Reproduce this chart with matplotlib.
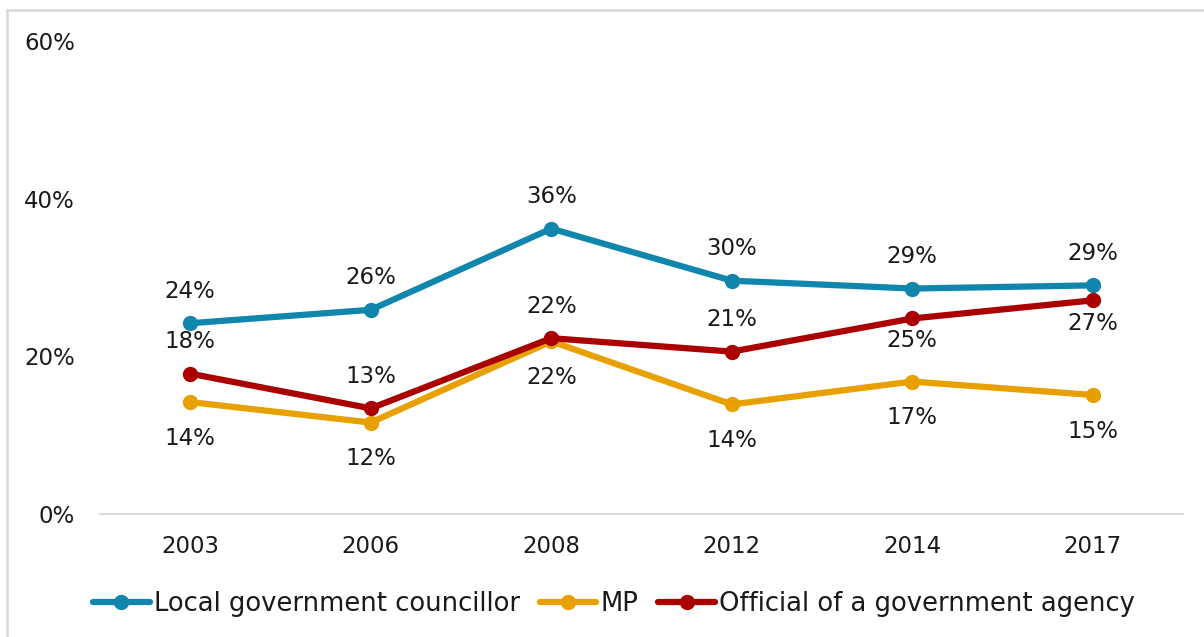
import matplotlib.pyplot as plt
from matplotlib.patches import Rectangle

# survey years and share of respondents who contacted each official
years = ['2003', '2006', '2008', '2012', '2014', '2017']
councillor = [24.2, 25.9, 36.2, 29.6, 28.6, 29.0]
mp = [14.2, 11.6, 21.9, 13.9, 16.8, 15.1]
agency = [17.8, 13.4, 22.3, 20.6, 24.8, 27.1]

series_names = ['Local government councillor', 'MP', 'Official of a government agency']
colors = ['#1186AD', '#E8A000', '#AA0000']
# label offsets in points: positive = above the marker
offsets = [
    [23, 23, 23, 23, 23, 23],
    [-26, -26, -26, -26, -26, -26],
    [23, 23, 23, 23, -16, -17],
]

plt.rcParams['font.family'] = 'DejaVu Sans'

fig = plt.figure(figsize=(12.04, 6.37), dpi=100)
fig.patch.set_facecolor('white')

# light grey frame around the chart area
fig.patches.append(Rectangle((7 / 1204, -0.05), 1.2, (637 - 10) / 637 + 0.05,
                             transform=fig.transFigure, fill=False,
                             edgecolor='#D9D9D9', linewidth=2))

ax = fig.add_axes([100 / 1204, (637 - 514) / 637, 1083 / 1204, 473 / 637])
x = range(len(years))

for vals, name, col, offs in zip([councillor, mp, agency], series_names, colors, offsets):
    ax.plot(x, vals, color=col, linewidth=4.5, marker='o', markersize=10,
            solid_capstyle='round', label=name)
    for xi, v, o in zip(x, vals, offs):
        ax.annotate(f'{round(v)}%', (xi, v), xytext=(0, o), textcoords='offset points',
                    ha='center', va='center', fontsize=16.5, color='#1a1a1a')

ax.set_xlim(-0.5, len(years) - 0.5)
ax.set_ylim(0, 60)
ax.set_yticks([0, 20, 40, 60])
ax.set_yticklabels(['0%', '20%', '40%', '60%'])
ax.set_xticks(list(x))
ax.set_xticklabels(years)
ax.tick_params(axis='both', length=0, labelsize=16.5, labelcolor='#1a1a1a')
ax.tick_params(axis='y', pad=18)
ax.tick_params(axis='x', pad=15)

for side in ['top', 'right', 'left']:
    ax.spines[side].set_visible(False)
ax.spines['bottom'].set_color('#D9D9D9')
ax.spines['bottom'].set_linewidth(1.5)
ax.set_facecolor('none')

fig.legend(loc='center', bbox_to_anchor=(614 / 1204, (637 - 604) / 637), ncol=3,
           frameon=False, fontsize=18.6, handlelength=2.2, handletextpad=0.16,
           columnspacing=0.76, labelcolor='#1a1a1a')

fig.savefig('out.png', dpi=100)
